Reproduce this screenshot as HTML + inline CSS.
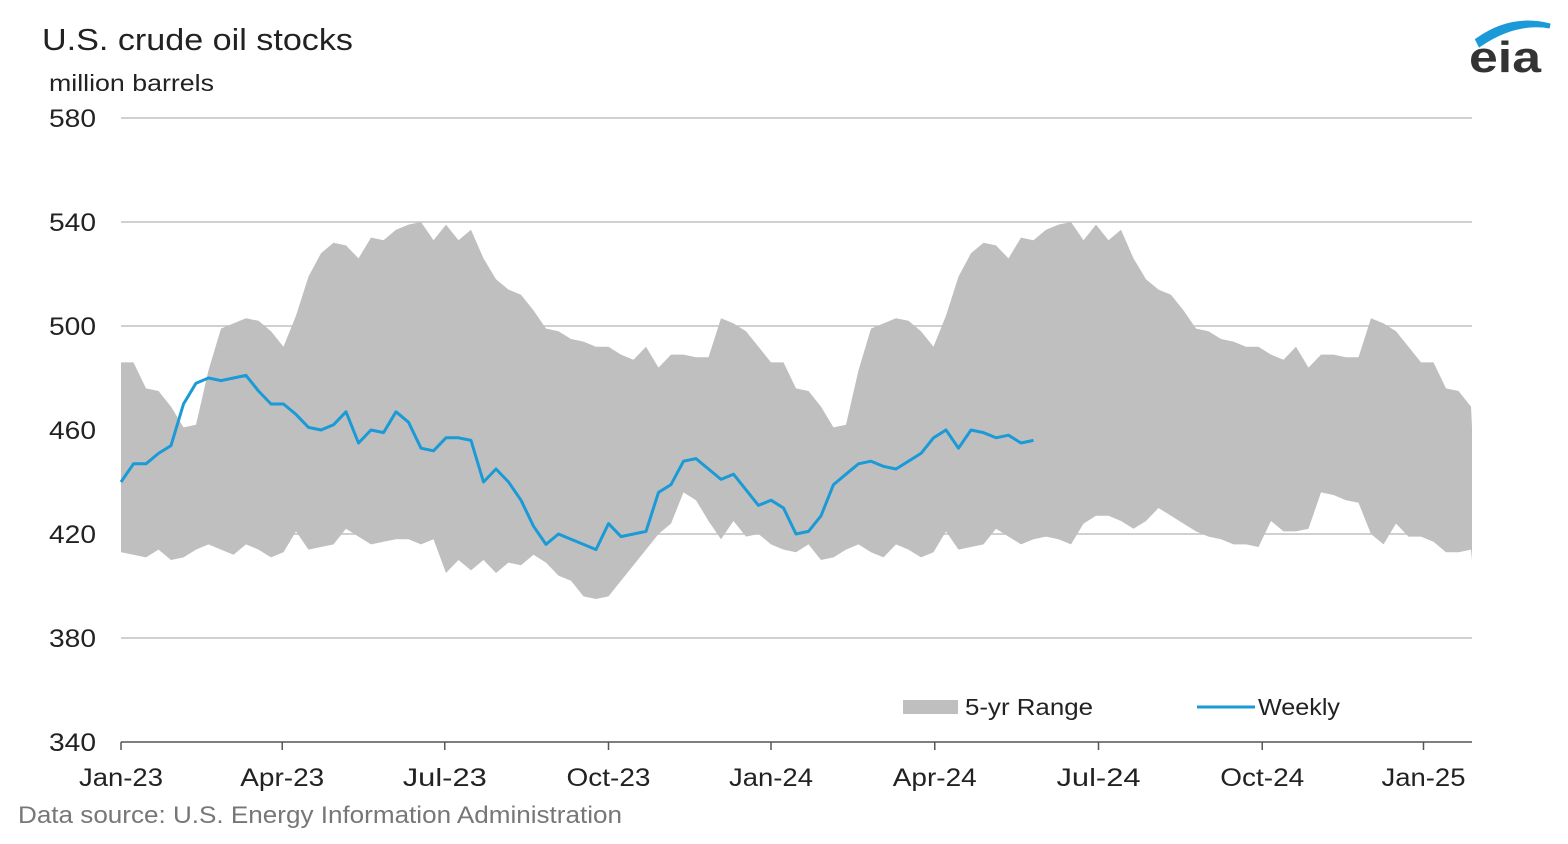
<!DOCTYPE html>
<html><head><meta charset="utf-8"><style>
body{margin:0;background:#fff;width:1568px;height:839px;overflow:hidden;font-family:"Liberation Sans",sans-serif}
</style></head><body>
<svg id="chart" width="1568" height="839" xmlns="http://www.w3.org/2000/svg" font-family="Liberation Sans, sans-serif">
<text x="42" y="50" font-size="31" fill="#222" textLength="311" lengthAdjust="spacingAndGlyphs">U.S. crude oil stocks</text>
<text x="49" y="91" font-size="23" fill="#222" textLength="165" lengthAdjust="spacingAndGlyphs">million barrels</text>
<g>
<path d="M1478 40 Q1512 16 1550 26 Q1515 20 1480 44 Z" fill="#1a9ad6" stroke="#1a9ad6" stroke-width="5"/>
<text x="1469" y="72" font-size="44" font-weight="bold" fill="#333" textLength="72" lengthAdjust="spacingAndGlyphs">eia</text>
</g>
<g id="grid"></g>
<g id="band"></g>
<g id="line"></g>
<g id="axes"></g>
<g>
<rect x="903" y="700" width="55" height="14" fill="#bfbfbf"/>
<text x="965" y="715" font-size="23" fill="#222" textLength="128" lengthAdjust="spacingAndGlyphs">5-yr Range</text>
<line x1="1197" y1="707" x2="1255" y2="707" stroke="#1a9ad6" stroke-width="3"/>
<text x="1258" y="715" font-size="23" fill="#222" textLength="82" lengthAdjust="spacingAndGlyphs">Weekly</text>
</g>
<text x="18" y="823" font-size="24" fill="#777" textLength="604" lengthAdjust="spacingAndGlyphs">Data source: U.S. Energy Information Administration</text>
</svg>
<script>
const yTicks=[580,540,500,460,420,380,340];
const xLabels=["Jan-23","Apr-23","Jul-23","Oct-23","Jan-24","Apr-24","Jul-24","Oct-24","Jan-25"];
const xLabelWeeks=[0,12.9,25.9,39,52,65.1,78.2,91.3,104.2];
const upperYear=[486,486,476,475,469,461,462,483,499,501,503,502,498,492,504,519,528,532,531,526,534,533,537,539,540,533,539,533,537,526,518,514,512,506,499,498,495,494,492,492,489,487,492,484,489,489,488,488,503,501,498,492];
const lower2023=[413,412,411,414,410,411,414,416,414,412,416,414,411,413,421,414,415,416,422,419,416,417,418,418,416,418,405,410,406,410,405,409,408,412,409,404,402,396,395,396,402,408,414,420,424,436,433,425,418,425,419,420];
const lower2024=[416,414,413,416,410,411,414,416,413,411,416,414,411,413,421,414,415,416,422,419,416,418,419,418,416,424,427,427,425,422,425,430,427,424,421,419,418,416,416,415,425,421,421,422,436,435,433,432,420,416,424,419,419,417,413,413,414,410];
const weekly=[440,447,447,451,454,470,478,480,479,480,481,475,470,470,466,461,460,462,467,455,460,459,467,463,453,452,457,457,456,440,445,440,433,423,416,420,418,416,414,424,419,420,421,436,439,448,449,445,441,443,437,431,433,430,420,421,427,439,443,447,448,446,445,448,451,457,460,453,460,459,457,458,455,456];
const NS="http://www.w3.org/2000/svg";
const X0=121,X1=1472,WK=12.5;
const xs=w=>Math.min(X1,X0+w*WK);
const ys=v=>118+(580-v)*2.6;
function mk(t,a,p){const e=document.createElementNS(NS,t);for(const k in a)e.setAttribute(k,a[k]);document.getElementById(p).appendChild(e);return e;}
yTicks.forEach((t,i)=>{
  if(t>340){const g=mk('line',{x1:X0,x2:X1,y1:ys(t),y2:ys(t),stroke:'#c0c0c0','stroke-width':1.5},'grid');
  
  }
  const l=mk('text',{x:96,y:ys(t)+9,'font-size':25,'text-anchor':'end',fill:'#222',textLength:47,lengthAdjust:'spacingAndGlyphs'},'axes');l.textContent=t;
  
  
});
const upper=[],lower=lower2023.concat(lower2024);
for(let i=0;i<lower.length;i++)upper.push(upperYear[i%52]);
let d='';
for(let i=0;i<upper.length;i++)d+=(i?'L':'M')+xs(i)+' '+ys(upper[i]);
for(let i=lower.length-1;i>=0;i--)d+='L'+xs(i)+' '+ys(lower[i]);
const band=mk('path',{d:d+'Z',fill:'#bfbfbf'},'band');


const pts=weekly.map((v,i)=>xs(i)+','+ys(v)).join(' ');
const ln=mk('polyline',{points:pts,fill:'none',stroke:'#1a9ad6','stroke-width':3,'stroke-linejoin':'round'},'line');


const ax=mk('line',{x1:X0,x2:X1,y1:ys(340),y2:ys(340),stroke:'#555','stroke-width':1.5},'axes');


xLabelWeeks.forEach((w,i)=>{
  const x=xs(w);
  const tk=mk('line',{x1:x,x2:x,y1:ys(340),y2:ys(340)+8,stroke:'#555','stroke-width':1.5},'axes');
  
  
  const t=mk('text',{x:x,y:786,'font-size':25,'text-anchor':'middle',fill:'#222',textLength:84,lengthAdjust:'spacingAndGlyphs'},'axes');t.textContent=xLabels[i];
  
  
});
</script>
</body></html>
